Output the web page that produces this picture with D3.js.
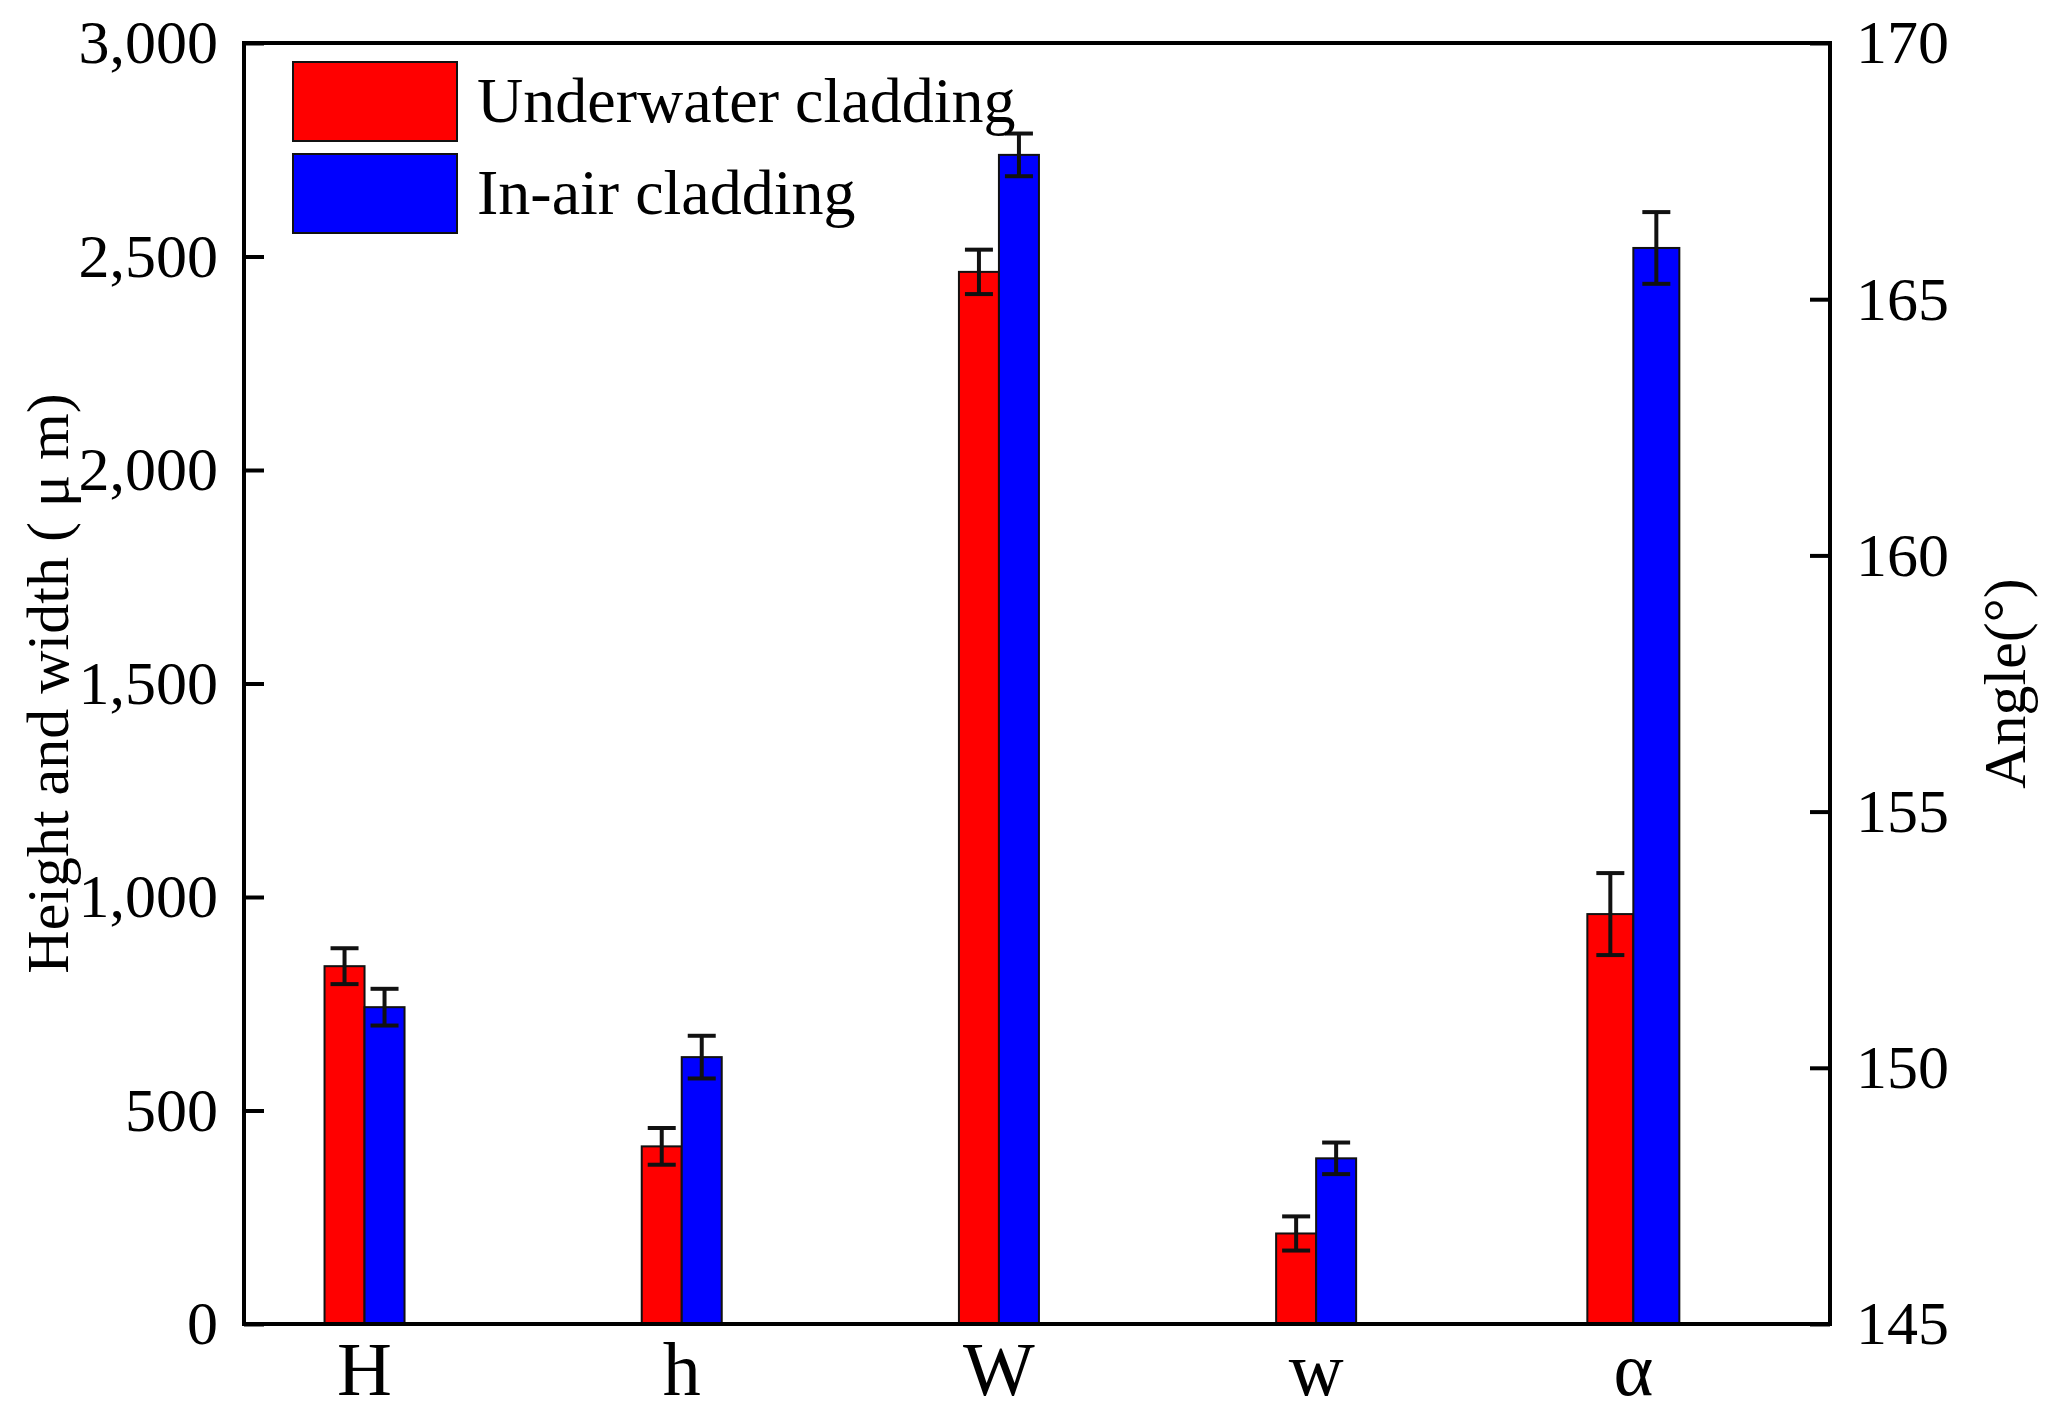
<!DOCTYPE html>
<html><head><meta charset="utf-8">
<script src="https://cdn.jsdelivr.net/npm/d3@7"></script>
<style>body{margin:0;background:#fff}text{font-family:"Liberation Serif","Times New Roman",serif}</style>
</head><body><svg></svg>
<script>
// Data
let categories = ["H", "h", "W", "w", "α"];
let underwater = [838, 416, 2464, 212, 153.0];
let underwaterErr = [42, 43, 52, 40, 0.8];
let inAir = [742, 625, 2738, 388, 166.0];
let inAirErr = [43, 50, 50, 37, 0.7];
let leftTicks = [0, 500, 1000, 1500, 2000, 2500, 3000];
let rightTicks = [145, 150, 155, 160, 165, 170];

let width = 2050, height = 1406;
let svg = d3.select("svg").attr("width", width).attr("height", height);

let pLeft = 244, pRight = 1830, pTop = 43, pBottom = 1324;
let x = d3.scaleLinear().domain([-0.38, 4.62]).range([pLeft, pRight]);
let y = d3.scaleLinear().domain([0, 3000]).range([pBottom, pTop]);
let y2 = d3.scaleLinear().domain([145, 170]).range([pBottom, pTop]);
let bw = 40;

// bars
function drawSeries(vals, errs, color, dx) {
  let g = svg.append("g");
  vals.forEach((v, i) => {
    let sc = i === 4 ? y2 : y;
    let w = i === 4 ? 46 : bw;
    let xc = x(i) + dx * w;
    g.append("rect").attr("x", xc - w / 2).attr("y", sc(v))
      .attr("width", w).attr("height", pBottom - sc(v))
      .attr("fill", color).attr("stroke", "#111").attr("stroke-width", 2);
    let e = errs[i];
    g.append("line").attr("x1", xc).attr("x2", xc).attr("y1", sc(v + e)).attr("y2", sc(v - e))
      .attr("stroke", "#111").attr("stroke-width", 4);
    [v + e, v - e].forEach(t => g.append("line").attr("x1", xc - 14).attr("x2", xc + 14)
      .attr("y1", sc(t)).attr("y2", sc(t)).attr("stroke", "#111").attr("stroke-width", 4));
  });
}
drawSeries(underwater, underwaterErr, "#ff0000", -0.5);
drawSeries(inAir, inAirErr, "#0000ff", 0.5);

// frame
svg.append("rect").attr("x", pLeft).attr("y", pTop).attr("width", pRight - pLeft).attr("height", pBottom - pTop)
  .attr("fill", "none").attr("stroke", "#000").attr("stroke-width", 4);

// axes
let ax = svg.append("g").attr("transform", `translate(${pLeft},0)`)
  .call(d3.axisLeft(y).tickValues(leftTicks).tickSize(-20).tickPadding(26));
let ax2 = svg.append("g").attr("transform", `translate(${pRight},0)`)
  .call(d3.axisRight(y2).tickValues(rightTicks).tickSize(-20).tickPadding(26));
[ax, ax2].forEach(a => {
  a.select(".domain").remove();
  a.selectAll("line").attr("stroke-width", 4);
  a.selectAll("text").attr("font-size", 62).attr("font-family", "Liberation Serif");
});

svg.append("g").selectAll("text").data(categories).join("text")
  .attr("x", (d, i) => x(i)).attr("y", 1395).attr("text-anchor", "middle")
  .attr("font-size", 76).text(d => d);

svg.append("text").attr("transform", `translate(68,${(pTop + pBottom) / 2}) rotate(-90)`)
  .attr("text-anchor", "middle").attr("font-size", 60).text("Height and width ( μ m)");
svg.append("text").attr("transform", `translate(2025,${(pTop + pBottom) / 2}) rotate(-90)`)
  .attr("text-anchor", "middle").attr("font-size", 60).text("Angle(°)");

// legend
let legend = [["Underwater cladding", "#ff0000"], ["In-air cladding", "#0000ff"]];
legend.forEach((l, i) => {
  svg.append("rect").attr("x", 293).attr("y", 62 + i * 92).attr("width", 164).attr("height", 79)
    .attr("fill", l[1]).attr("stroke", "#111").attr("stroke-width", 2);
  svg.append("text").attr("x", 477).attr("y", 122 + i * 92).attr("font-size", 64).text(l[0]);
});
</script></body></html>
